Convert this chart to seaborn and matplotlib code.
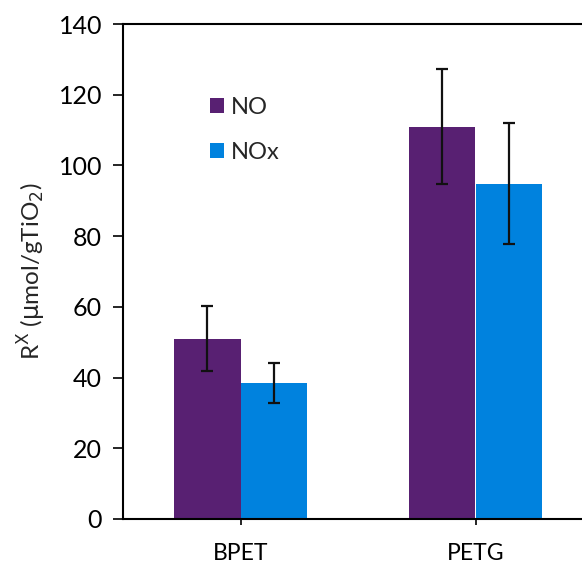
import pandas as pd
import numpy as np
import matplotlib.pyplot as plt
import seaborn as sns

# data
samples = ["BPET", "PETG"]
no_vals = [51.0, 111.0]
nox_vals = [38.5, 94.8]
no_err = [9.2, 16.2]
nox_err = [5.6, 17.1]

data = pd.DataFrame({
    "sample": samples * 2,
    "gas": ["NO"] * 2 + ["NOx"] * 2,
    "value": no_vals + nox_vals,
    "err": no_err + nox_err,
})

sns.set_style("white")
plt.rcParams["font.family"] = ["Lato", "DejaVu Sans"]

fig = plt.figure(figsize=(5.82, 5.66), dpi=100)
ax = fig.add_axes([123 / 582, 47 / 566, 470 / 582, 495 / 566])

palette = {"NO": "#582072", "NOx": "#0082DE"}
sns.barplot(data=data, x="sample", y="value", hue="gas", palette=palette,
            width=0.57, gap=0, errorbar=None, saturation=1, linewidth=0, ax=ax)

# error bars at the centres of the bars seaborn drew
for cont, gas in zip(ax.containers, ["NO", "NOx"]):
    sub = data[data.gas == gas]
    xs = [p.get_x() + p.get_width() / 2 for p in cont]
    ax.errorbar(xs, sub["value"], yerr=sub["err"], fmt="none",
                ecolor="#111111", elinewidth=1.6, capsize=4.3, capthick=1.6)

ax.set_xlim(-0.5, 1.5)
ax.set_ylim(0, 140)
ax.set_yticks(np.arange(0, 141, 20))
ax.set_xlabel("")
ax.set_ylabel(r"R$^{\mathrm{X}}$ ($\mathrm{\mu}$mol/gTiO$_2$)", fontsize=17.5, labelpad=8)
ax.tick_params(axis="y", labelsize=18, direction="out", length=7, width=1.2,
               pad=8, left=True, colors="black")
ax.tick_params(axis="x", direction="out", length=4, width=1.2, pad=13,
               labelsize=16.5, bottom=True, colors="black")
for s in ax.spines.values():
    s.set_color("black")
    s.set_linewidth(1.5)

ax.legend(loc="upper left", bbox_to_anchor=(0.14, 0.895), frameon=False,
          fontsize=17, handlelength=0.6, handleheight=0.6, labelspacing=1.0,
          handletextpad=0.3)

fig.savefig("out.png", dpi=100)
